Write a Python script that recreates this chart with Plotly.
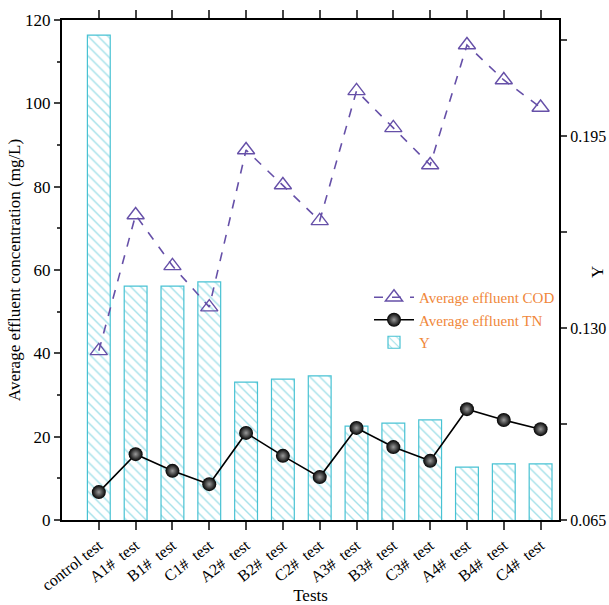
import plotly.graph_objects as go

categories = ["control test", "A1#\u00a0 test", "B1#\u00a0 test", "C1#\u00a0 test",
              "A2#\u00a0 test", "B2#\u00a0 test", "C2#\u00a0 test",
              "A3#\u00a0 test", "B3#\u00a0 test", "C3#\u00a0 test",
              "A4#\u00a0 test", "B4#\u00a0 test", "C4#\u00a0 test"]
cod = [40.6, 73.2, 61.0, 51.1, 88.8, 80.4, 71.8, 103.0, 94.1, 85.2, 114.0, 105.6, 99.0]
tn = [6.7, 15.8, 11.8, 8.6, 20.9, 15.4, 10.3, 22.1, 17.5, 14.2, 26.6, 24.0, 21.8]
y_vals = [0.2292, 0.1442, 0.1442, 0.1456, 0.1117, 0.1127, 0.1138,
          0.0968, 0.0978, 0.0989, 0.0829, 0.0840, 0.0840]

FONT = "Liberation Serif"
CYAN = "#48c2d3"
PURPLE = "#6650a8"
ORANGE = "#f0873a"

fig = go.Figure()
fig.add_trace(go.Bar(
    x=categories, y=y_vals, name="Y", yaxis="y", width=0.62,
    marker=dict(color="white", line=dict(color=CYAN, width=1.2),
                pattern=dict(shape="\\", fgcolor=CYAN, bgcolor="white",
                             size=7, solidity=0.2, fillmode="overlay")),
    legendrank=3,
))
fig.add_trace(go.Scatter(
    x=categories, y=cod, name="Average effluent COD", mode="lines+markers", yaxis="y2",
    line=dict(color=PURPLE, width=1.6, dash="dash"),
    marker=dict(symbol="triangle-up-open", size=15, color=PURPLE, line=dict(width=1.4)),
    legendrank=1,
))
fig.add_trace(go.Scatter(
    x=categories, y=tn, name="Average effluent TN", mode="lines+markers", yaxis="y2",
    line=dict(color="black", width=1.6),
    marker=dict(symbol="circle", size=14, color="black",
                gradient=dict(type="radial", color="#9a9a9a"),
                line=dict(width=0)),
    legendrank=2,
))

W, H = 609, 605
ML, MR, MT, MB = 62, 50, 20, 85
PW, PH = W - ML - MR, H - MT - MB

fig.update_layout(
    width=W, height=H,
    margin=dict(l=ML, r=MR, t=MT, b=MB),
    plot_bgcolor="white", paper_bgcolor="white",
    font=dict(family=FONT, size=16, color="black"),
    showlegend=True,
    legend=dict(x=(369 - ML) / PW, y=(H - MB - 281) / PH, xanchor="left", yanchor="top",
                bgcolor="rgba(0,0,0,0)", font=dict(color=ORANGE, size=15, family=FONT),
                tracegroupgap=0, itemwidth=40),
    xaxis=dict(
        type="category", range=[-1, 12.5], showline=True, linecolor="black", linewidth=2,
        mirror="ticks", ticks="outside", ticklen=8, tickwidth=2, tickangle=-38,
        title=dict(text="Tests", font=dict(size=17), standoff=5),
        tickfont=dict(size=16), showgrid=False, zeroline=False, automargin=False,
    ),
    yaxis=dict(
        side="right", range=[0.065, 0.2343],
        tickvals=[0.065, 0.130, 0.195], ticktext=["0.065", "0.130", "0.195"],
        showline=True, linecolor="black", linewidth=2,
        ticks="outside", ticklen=6, tickwidth=1.5,
        minor=dict(tickvals=[0.0975, 0.1625, 0.2275], ticks="outside", ticklen=6, tickwidth=1.5),
        showgrid=False, zeroline=False, tickfont=dict(size=16), automargin=False,
    ),
    yaxis2=dict(
        overlaying="y", side="left",
        range=[0, 120], dtick=20, showline=True, linecolor="black", linewidth=2,
        ticks="outside", ticklen=6, tickwidth=1.5,
        minor=dict(dtick=10, ticks="outside", ticklen=3, tickwidth=1.5),
        title=dict(text="Average effluent concentration (mg/L)", font=dict(size=17), standoff=0),
        showgrid=False, zeroline=False, tickfont=dict(size=17), automargin=False,
    ),
    annotations=[dict(text="Y", x=(597 - ML) / PW, y=(H - MB - 272) / PH,
                      xref="paper", yref="paper", xanchor="center", yanchor="middle",
                      showarrow=False, textangle=-90, font=dict(size=17, family=FONT))],
)

fig.write_html("out.html")
